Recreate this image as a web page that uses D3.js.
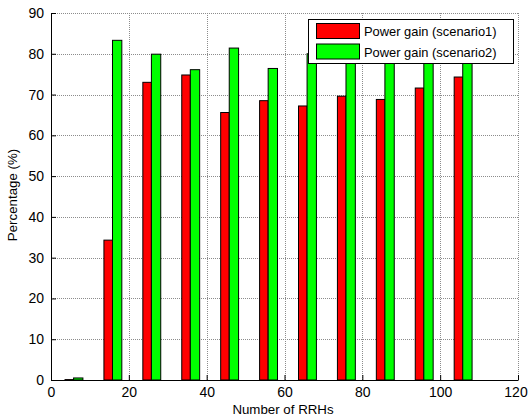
<!DOCTYPE html>
<html>
<head>
<meta charset="utf-8">
<script src="https://cdn.jsdelivr.net/npm/d3@7"></script>
<style>
  html, body { margin: 0; padding: 0; background: #fff; }
  svg { display: block; font-family: "Liberation Sans", Arial, sans-serif; }
</style>
</head>
<body>
<svg id="chart" width="528" height="419"></svg>
<script>
// Number of RRHs per group
const rrh = [5, 15, 25, 35, 45, 55, 65, 75, 85, 95, 105];
// Power gain, scenario 1 (%)
const gainScenario1 = [0.1, 34.3, 73.0, 74.8, 65.6, 68.5, 67.2, 69.6, 68.8, 71.6, 74.3];
// Power gain, scenario 2 (%)
const gainScenario2 = [0.5, 83.3, 79.9, 76.1, 81.4, 76.4, 80.0, 81.0, 81.0, 82.0, 82.0];
const seriesNames = ["Power gain (scenario1)", "Power gain (scenario2)"];
const seriesColors = ["#ff0000", "#00ff00"];
const xTicks = [0, 20, 40, 60, 80, 100, 120];
const yTicks = [0, 10, 20, 30, 40, 50, 60, 70, 80, 90];

const svg = d3.select("#chart");
const plotLeft = 51, plotRight = 518, plotTop = 13, plotBottom = 380;

const x = d3.scaleLinear().domain([0, 120]).range([plotLeft, plotRight]);
const y = d3.scaleLinear().domain([0, 90]).range([plotBottom, plotTop]);

// bar extents within a group, in data units
const barSpans = [[-1.4, 0.8], [0.8, 3.2]];

// grid (dotted)
const grid = svg.append("g").attr("stroke", "#8c8c8c").attr("stroke-width", 1)
  .attr("stroke-dasharray", "1,1").attr("shape-rendering", "crispEdges");
xTicks.filter(t => t > 0).forEach(t => {
  grid.append("line").attr("x1", Math.round(x(t)) + 0.5).attr("x2", Math.round(x(t)) + 0.5)
    .attr("y1", y(90)).attr("y2", y(0));
});
yTicks.filter(t => t > 0).forEach(t => {
  grid.append("line").attr("y1", Math.round(y(t)) + 0.5).attr("y2", Math.round(y(t)) + 0.5)
    .attr("x1", x(0)).attr("x2", x(120));
});

// bars
const series = [gainScenario1, gainScenario2];
series.forEach((vals, s) => {
  svg.append("g").selectAll("rect").data(rrh).join("rect")
    .attr("x", (d) => x(d + barSpans[s][0]))
    .attr("width", (d) => x(d + barSpans[s][1]) - x(d + barSpans[s][0]))
    .attr("y", (d, i) => y(vals[i]))
    .attr("height", (d, i) => y(0) - y(vals[i]))
    .attr("fill", seriesColors[s])
    .attr("stroke", "#000").attr("stroke-width", 1);
});

// axes
const xAxis = d3.axisBottom(x).tickValues(xTicks).tickSizeInner(-5).tickSizeOuter(0).tickPadding(7);
const yAxis = d3.axisLeft(y).tickValues(yTicks).tickSizeInner(-5).tickSizeOuter(0).tickPadding(7);
const gx = svg.append("g").attr("transform", `translate(0,${plotBottom})`).call(xAxis);
const gy = svg.append("g").attr("transform", `translate(${plotLeft},0)`).call(yAxis);
[gx, gy].forEach(g => {
  g.select(".domain").attr("stroke", "#000");
  g.selectAll(".tick line").attr("stroke", "#000");
  g.selectAll("text").attr("font-size", 14).attr("fill", "#000")
    .attr("font-family", "Liberation Sans, Arial, sans-serif");
});
// keep the last x tick label inside the page edge
gx.selectAll(".tick text").filter(d => d === 120).attr("dx", -2.5);

// axis titles
svg.append("text").attr("x", 283).attr("y", 414).attr("text-anchor", "middle")
  .attr("font-size", 13.3).text("Number of RRHs");
svg.append("text").attr("transform", "translate(17,195) rotate(-90)").attr("text-anchor", "middle")
  .attr("font-size", 13.3).text("Percentage (%)");

// legend
const lg = svg.append("g");
lg.append("rect").attr("x", 308.5).attr("y", 19.5).attr("width", 205).attr("height", 44)
  .attr("fill", "#fff").attr("stroke", "#000");
seriesNames.forEach((name, i) => {
  lg.append("rect").attr("x", 316.5).attr("y", 23.5 + i * 20.5).attr("width", 43).attr("height", 15)
    .attr("fill", seriesColors[i]).attr("stroke", "#000");
  lg.append("text").attr("x", 364).attr("y", 36 + i * 20.5).attr("font-size", 12.9).text(name);
});
</script>
</body>
</html>
